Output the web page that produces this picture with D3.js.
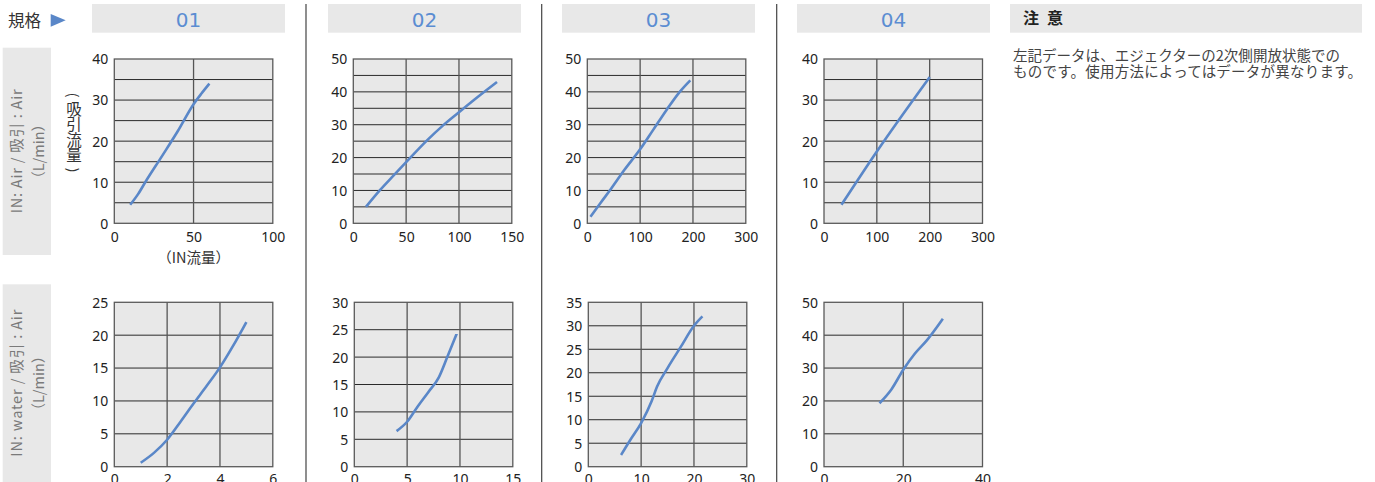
<!DOCTYPE html>
<html><head><meta charset="utf-8">
<script src="https://cdn.jsdelivr.net/npm/d3@7"></script>
<style>
html,body{margin:0;padding:0;background:#fff;}
svg{display:block;}
text{font-family:"Noto Sans","Noto Sans CJK JP",sans-serif;}
.cjk{font-family:"Noto Sans CJK JP","Noto Sans",sans-serif;}
</style></head>
<body>
<svg id="chart" width="1375" height="482"></svg>
<script>
// ---- data ----
const specs = ["01", "02", "03", "04"];
const rowLabels = ["IN: Air / 吸引 : Air", "IN: water / 吸引 : Air"];
const unitLabel = "（L/min）";
const xAxisTitle = "（IN流量）";
const yAxisTitle = "吸引流量";
const yAxisParens = ["(", ")"];
const noteTitle = ["注", "意"];
const noteLines = ["左記データは、エジェクターの2次側開放状態での", "ものです。使用方法によってはデータが異なります。"];

const air01 = [[10,4.5],[15,7.1],[20,10.3],[30,16.3],[40,22.4],[50,29],[55,31.6],[60,34]];
const air02 = [[12,5],[25,10],[38,14.5],[50,18.6],[70,25.3],[85,29.8],[100,33.8],[118,38.5],[136,43]];
const air03 = [[6,2],[25,6.2],[45,10.5],[70,16.2],[100,22.5],[125,28.5],[150,34.5],[175,40],[195,43.5]];
const air04 = [[33,4.5],[100,17.5],[200,35.6]];
const water01 = [[1,0.6],[1.5,2.1],[2,4.1],[2.5,6.8],[3,9.6],[3.5,12.3],[4,15.1],[4.5,18.4],[5,22]];
const water02 = [[4,6.5],[5,8.2],[6,11],[7,13.6],[8,16.3],[8.8,20],[9.7,24.3]];
const water03 = [[6.2,2.5],[8,5.8],[10,9.3],[12,14],[13,17],[15,21],[17.5,25.5],[20,30],[21.6,32]];
const water04 = [[14,19.3],[17,23.5],[20,29.5],[23,34.5],[26,38.5],[30,45]];

const airXTicks = [[0,50,100],[0,50,100,150],[0,100,200,300],[0,100,200,300]];
const airYTicks = [[0,10,20,30,40],[0,10,20,30,40,50],[0,10,20,30,40,50],[0,10,20,30,40]];
const airYGrid = [[0,5,10,15,20,25,30,35,40],[0,5,10,15,20,25,30,35,40,45,50],[0,5,10,15,20,25,30,35,40,45,50],[0,5,10,15,20,25,30,35,40]];
const waterXTicks = [[0,2,4,6],[0,5,10,15],[0,10,20,30],[0,20,40]];
const waterYTicks = [[0,5,10,15,20,25],[0,5,10,15,20,25,30],[0,5,10,15,20,25,30,35],[0,10,20,30,40,50]];

const airSeries = [air01, air02, air03, air04];
const waterSeries = [water01, water02, water03, water04];

// ---- layout ----
const svg = d3.select("#chart");
const BOX = "#e8e8e8", BLUE = "#5a87c8";
const headerX = [92, 328, 562, 797];
const headerW = 193;
const sepX = [306, 541.7, 776.7];
const plotW = 158.5;
const rows = [
  {lefts:[114.3,353.3,587.3,824], top:59, bottom:223.3, xt:airXTicks, yt:airYTicks, yg:airYGrid, data:airSeries, lab:19},
  {lefts:[114.3,354.3,588.3,824], top:302.3, bottom:466.7, xt:waterXTicks, yt:waterYTicks, yg:waterYTicks, data:waterSeries, lab:17.5}
];

// header
svg.append("text").attr("class","cjk").attr("x",8).attr("y",26.5)
  .attr("font-size",16.5).attr("fill","#333").text("規格");
svg.append("path").attr("d","M50.7,14 L65.7,20.3 L50.7,26.7 Z").attr("fill",BLUE);

specs.forEach((s,i)=>{
  svg.append("rect").attr("x",headerX[i]).attr("y",4).attr("width",headerW).attr("height",28.7).attr("fill",BOX);
  svg.append("text").attr("x",headerX[i]+headerW/2).attr("y",27.3).attr("text-anchor","middle")
    .style("font-family","'DejaVu Sans'")
    .attr("font-size",20).attr("fill","#5b8dd2").text(s);
});
sepX.forEach(x=>{
  svg.append("line").attr("x1",x).attr("x2",x).attr("y1",4).attr("y2",482)
    .attr("stroke","#444").attr("stroke-width",1.2);
});

// note
svg.append("rect").attr("x",1010).attr("y",4).attr("width",352).attr("height",28.7).attr("fill",BOX);
const nt = svg.append("text").attr("class","cjk").attr("y",24).attr("font-size",16).attr("font-weight","bold").attr("fill","#222");
nt.append("tspan").attr("x",1023).text(noteTitle[0]);
nt.append("tspan").attr("x",1047).text(noteTitle[1]);
const noteLen = [327, 349];
noteLines.forEach((l,i)=>{
  svg.append("text").attr("class","cjk").attr("x",1013).attr("y",61+i*15.5)
    .attr("font-size",14.5).attr("fill","#444")
    .attr("textLength",noteLen[i]).attr("lengthAdjust","spacing").text(l);
});

// row labels
const rowBoxes = [[47.7,255],[284.3,482]];
const rowLen = [124, 147];
rowBoxes.forEach((b,i)=>{
  svg.append("rect").attr("x",2.7).attr("y",b[0]).attr("width",48.3).attr("height",b[1]-b[0]).attr("fill",BOX);
  const cy = (b[0]+b[1])/2;
  svg.append("text").attr("class","cjk").attr("transform",`translate(15.5,${cy}) rotate(-90)`)
    .attr("text-anchor","middle").attr("dominant-baseline","central")
    .attr("font-size",14.5).attr("fill","#7a7a7a")
    .attr("textLength",rowLen[i]).attr("lengthAdjust","spacing").text(rowLabels[i]);
  svg.append("text").attr("class","cjk").attr("transform",`translate(37,${cy}) rotate(-90)`)
    .attr("text-anchor","middle").attr("dominant-baseline","central")
    .attr("font-size",14.5).attr("fill","#7a7a7a").text(unitLabel);
});

// charts
rows.forEach((r,ri)=>{
  r.data.forEach((series,ci)=>{
    const xt = r.xt[ci], yt = r.yt[ci], yg = r.yg[ci];
    const L = r.lefts[ci];
    const x = d3.scaleLinear().domain([xt[0], xt[xt.length-1]]).range([L, L+plotW]);
    const y = d3.scaleLinear().domain([yt[0], yt[yt.length-1]]).range([r.bottom, r.top]);
    const g = svg.append("g");
    g.append("rect").attr("x",L).attr("y",r.top).attr("width",plotW).attr("height",r.bottom-r.top).attr("fill",BOX);
    g.selectAll(".hg").data(yg.slice(1,-1)).join("line")
      .attr("x1",L).attr("x2",L+plotW).attr("y1",d=>y(d)).attr("y2",d=>y(d))
      .attr("stroke","#2a2a2a").attr("stroke-width",1);
    g.selectAll(".vg").data(xt.slice(1,-1)).join("line")
      .attr("y1",r.top).attr("y2",r.bottom).attr("x1",d=>x(d)).attr("x2",d=>x(d))
      .attr("stroke","#555").attr("stroke-width",1.3);
    g.append("rect").attr("x",L).attr("y",r.top).attr("width",plotW).attr("height",r.bottom-r.top)
      .attr("fill","none").attr("stroke","#5a5a5a").attr("stroke-width",1.3);
    // axes
    const fmt = d3.format("d");
    const ya = g.append("g").attr("transform",`translate(${L},0)`)
      .call(d3.axisLeft(y).tickValues(yt).tickFormat(fmt).tickSize(0).tickPadding(6));
    const xa = g.append("g").attr("transform",`translate(0,${r.bottom})`)
      .call(d3.axisBottom(x).tickValues(xt).tickFormat(fmt).tickSize(0).tickPadding(0));
    [ya,xa].forEach(a=>{
      a.select(".domain").remove();
      a.selectAll("text").attr("font-family",null).style("font-family","'Noto Sans',sans-serif")
        .attr("font-size",14).attr("fill","#222");
    });
    ya.selectAll("text").attr("dy","0.35em");
    xa.selectAll("text").attr("dy",null).attr("y",r.lab);
    // curve
    g.append("path").datum(series)
      .attr("d", d3.line().x(d=>x(d[0])).y(d=>y(d[1])).curve(d3.curveMonotoneX))
      .attr("fill","none").attr("stroke",BLUE).attr("stroke-width",2.6);
    if (ri===0 && ci===0) {
      svg.append("text").attr("class","cjk").attr("x",L+plotW/2).attr("y",263)
        .attr("text-anchor","middle").attr("font-size",14.5).attr("fill","#333").text(xAxisTitle);
      // vertical title
      svg.append("text").attr("class","cjk").attr("x",74).attr("y",132)
        .attr("text-anchor","middle").style("writing-mode","vertical-rl")
        .attr("font-size",15.5).attr("fill","#333").text(yAxisTitle);
      [[95, yAxisParens[0]], [170, yAxisParens[1]]].forEach(([py,c])=>{
        svg.append("text").attr("class","cjk")
          .attr("transform",`translate(74,${py}) rotate(90)`)
          .attr("text-anchor","middle").attr("dominant-baseline","central")
          .attr("font-size",14).attr("fill","#333").text(c);
      });
    }
  });
});
</script>
</body></html>
